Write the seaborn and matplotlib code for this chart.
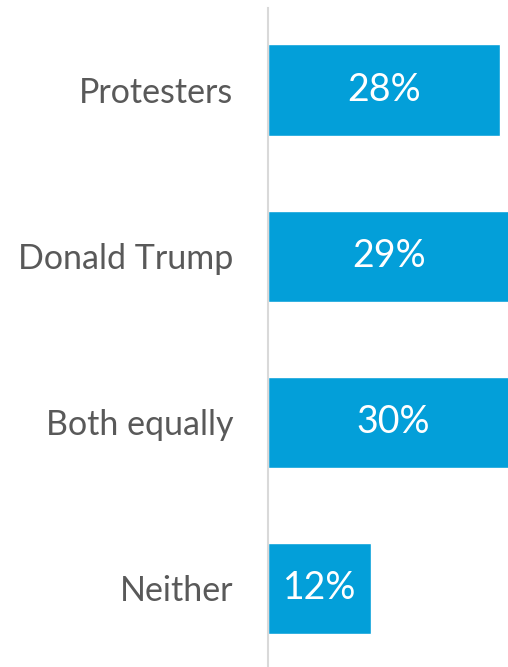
import matplotlib
matplotlib.use("Agg")
import matplotlib.pyplot as plt
import seaborn as sns
import pandas as pd

sns.set_style("white")
plt.rcParams['font.family'] = ['Lato', 'DejaVu Sans']

# data
answers = ["Protesters", "Donald Trump", "Both equally", "Neither"]
shares = [27.8, 29.0, 30.0, 12.4]
labels = ["28%", "29%", "30%", "12%"]

df = pd.DataFrame({"answer": answers, "share": shares})

fig = plt.figure(figsize=(5.08, 6.67), dpi=100)
ax = fig.add_axes([268 / 508, 0, 240 / 508, 659 / 667])

sns.barplot(data=df, x="share", y="answer", orient="h",
            color="#039FD9", saturation=1, width=0.55, ax=ax)

# value labels centred in each bar
for bar, lab in zip(ax.patches, labels):
    cx = bar.get_x() + bar.get_width() / 2
    cy = bar.get_y() + bar.get_height() / 2
    ax.text(cx, cy, lab, ha="center", va="center",
            color="white", fontsize=27)

ax.set_xlim(0, 28.8)
ax.set_ylim(3.473, -0.494)
ax.set_xlabel("")
ax.set_ylabel("")
ax.set_xticks([])
ax.tick_params(axis="y", length=0, pad=25, labelsize=24.5, labelcolor="#595959")

for s in ["top", "right", "bottom"]:
    ax.spines[s].set_visible(False)
ax.spines["left"].set_color("#D9D9D9")
ax.spines["left"].set_linewidth(1.5)

fig.savefig("out.png", dpi=100)
